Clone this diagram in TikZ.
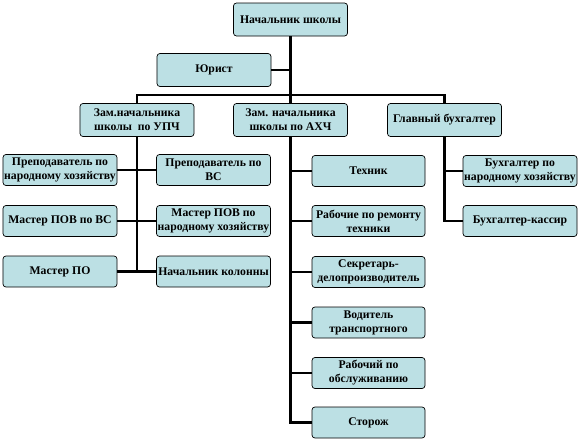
\documentclass[tikz,border=0pt]{standalone}
\usepackage{fontspec}
\setmainfont{Liberation Serif}
\usetikzlibrary{positioning,calc}
\definecolor{BoxFill}{HTML}{BCE0E4}
\definecolor{LineBlack}{HTML}{000000}
\tikzset{
    % Base box style
    postbox/.style={
        draw=LineBlack,
        fill=BoxFill,
        rounded corners=2.5pt,
        line width=0.6pt,
        minimum width=3.42cm,
        minimum height=0.99cm,
        inner sep=1pt,
        align=center,
        font=\fontsize{10}{12}\selectfont\bfseries
    },
    % Lower level box
    staffbox/.style={
        postbox,
        minimum height=0.93cm
    },
    % Connector lines
    orgline/.style={
        line width=2.4pt,
        draw=LineBlack
    }
}
\begin{document}
\begin{tikzpicture}[x=0.03cm, y=-0.03cm]
    \useasboundingbox (0,0) rectangle (582,445);

    % Top level
    \node[postbox] (boss) at (290.5,19.5) {Начальник школы};
    \node[postbox] (jur) at (214,70) {Юрист};

    % Deputies
    \node[postbox] (upch) at (137,120) {Зам.начальника\\школы\ \ по УПЧ};
    \node[postbox] (ahch) at (290.5,120) {Зам. начальника\\школы по АХЧ};
    \node[postbox] (buh) at (444.5,120) {Главный бухгалтер};

    % UPCh - left column
    \node[staffbox] (prepnh) at (60,170) {Преподаватель по\\народному хозяйству};
    \node[staffbox] (mpovvs) at (60,221) {Мастер ПОВ по ВС};
    \node[staffbox] (mpo) at (60,271.5) {Мастер ПО};

    % UPCh - right column
    \node[staffbox] (prepvs) at (213.5,170) {Преподаватель по\\ВС};
    \node[staffbox] (mpovnh) at (213.5,221) {Мастер ПОВ по\\народному хозяйству};
    \node[staffbox] (nk) at (213.5,271.5) {Начальник колонны};

    % AHCh
    \node[staffbox, minimum width=3.39cm] (tech) at (368.5,171) {Техник};
    \node[staffbox, minimum width=3.39cm] (remont) at (368.5,221) {Рабочие по ремонту\\техники};
    \node[staffbox, minimum width=3.39cm] (secr) at (368.5,272) {Секретарь-\\делопроизводитель};
    \node[staffbox, minimum width=3.39cm] (drv) at (368.5,322.5) {Водитель\\транспортного};
    \node[staffbox, minimum width=3.39cm] (obsl) at (368.5,373) {Рабочий по\\обслуживанию};
    \node[staffbox, minimum width=3.39cm] (guard) at (368.5,422.5) {Сторож};

    % Accounting
    \node[staffbox] (buhnh) at (520,171) {Бухгалтер по\\народному хозяйству};
    \node[staffbox] (cash) at (520,221) {Бухгалтер-кассир};

    % Lines
    \coordinate (bus) at (290.5,95);
    \draw[orgline] (boss) -- (ahch);
    \draw[orgline] (jur) -- (jur -| boss);
    \draw[orgline] (upch.north) |- (bus) -| (buh.north);

    \draw[orgline] (upch.south) |- (mpo.east);
    \draw[orgline] (upch.south) |- (nk.west);
    \draw[orgline] (prepnh) -- (prepvs);
    \draw[orgline] (mpovvs) -- (mpovnh);

    \draw[orgline] (ahch.south) |- (guard.west);
    \draw[orgline] (ahch.south) |- (tech.west);
    \draw[orgline] (ahch.south) |- (remont.west);
    \draw[orgline] (ahch.south) |- (secr.west);
    \draw[orgline] (ahch.south) |- (drv.west);
    \draw[orgline] (ahch.south) |- (obsl.west);

    \draw[orgline] (buh.south) |- (cash.west);
    \draw[orgline] (buh.south) |- (buhnh.west);
\end{tikzpicture}
\end{document}
